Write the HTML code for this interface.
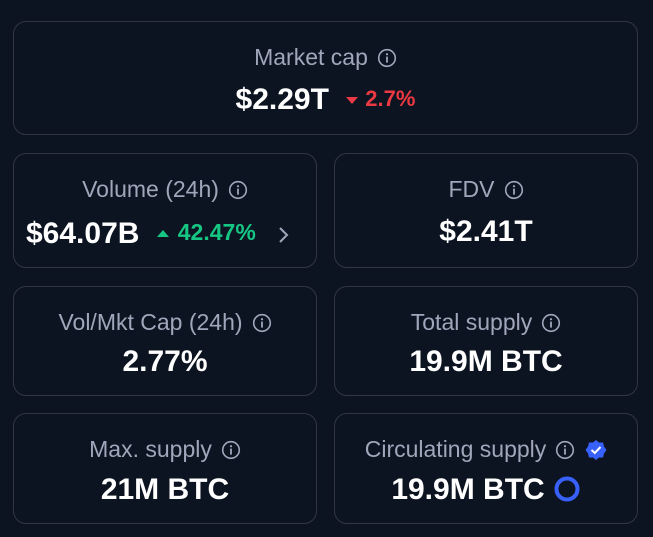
<!DOCTYPE html>
<html><head><meta charset="utf-8"><style>
*{margin:0;padding:0;box-sizing:border-box}
body{width:653px;height:537px;background:#0d1421;font-family:"Liberation Sans",sans-serif;position:relative;overflow:hidden}
.card{position:absolute;border:1.5px solid #323546;border-radius:13px}
.lab{position:absolute;left:0;right:0;text-align:center;color:#a1a7bb;font-size:23px;line-height:26px;white-space:nowrap;top:22px}
.val{position:absolute;left:0;right:0;text-align:center;color:#fff;font-size:30px;font-weight:bold;line-height:34px;white-space:nowrap}
.info{display:inline-block;vertical-align:-3px;margin-left:9px}
.pct{font-size:22px;font-weight:bold;vertical-align:3px}
</style></head><body>
<svg width="0" height="0" style="position:absolute"><defs><symbol id="i" viewBox="0 0 20 20"><circle cx="10" cy="10" r="8.3" fill="none" stroke="#a1a7bb" stroke-width="1.6"/><rect x="9.1" y="8.6" width="1.8" height="6" fill="#a1a7bb"/><circle cx="10" cy="6.2" r="1.1" fill="#a1a7bb"/></symbol></defs></svg>

<div class="card" style="left:13px;top:21px;width:625px;height:114px">
<div class="lab">Market cap<svg class="info" width="20" height="20"><use href="#i"/></svg></div>
<div class="val" style="top:60px">$2.29T <span class="pct" style="color:#ea3943"><svg width="14" height="10" style="margin:0 6px 1px 8px"><polygon points="1,2 13,2 7,9" fill="#ea3943"/></svg>2.7%</span></div>
</div>

<div class="card" style="left:13px;top:153px;width:304px;height:115px">
<div class="lab">Volume (24h)<svg class="info" width="20" height="20"><use href="#i"/></svg></div>
<div class="val" style="top:61px;text-align:left;left:12px">$64.07B <span class="pct" style="color:#16c784;font-size:23px"><svg width="14" height="10" style="margin:0 8px 1px 8px"><polygon points="1,8 13,8 7,1" fill="#16c784"/></svg>42.47%</span><svg width="14" height="18" style="margin-left:20px;vertical-align:-1px"><polyline points="4,2 11,9 4,16" fill="none" stroke="#a1a7bb" stroke-width="2"/></svg></div>
</div>

<div class="card" style="left:334px;top:153px;width:304px;height:115px">
<div class="lab">FDV<svg class="info" width="20" height="20"><use href="#i"/></svg></div>
<div class="val" style="top:61px">$2.41T</div>
</div>

<div class="card" style="left:13px;top:286px;width:304px;height:110px">
<div class="lab">Vol/Mkt Cap (24h)<svg class="info" width="20" height="20"><use href="#i"/></svg></div>
<div class="val" style="top:58px">2.77%</div>
</div>

<div class="card" style="left:334px;top:286px;width:304px;height:110px">
<div class="lab">Total supply<svg class="info" width="20" height="20"><use href="#i"/></svg></div>
<div class="val" style="top:58px">19.9M BTC</div>
</div>

<div class="card" style="left:13px;top:413px;width:304px;height:111px">
<div class="lab">Max. supply<svg class="info" width="20" height="20"><use href="#i"/></svg></div>
<div class="val" style="top:59px">21M BTC</div>
</div>

<div class="card" style="left:334px;top:413px;width:304px;height:111px">
<div class="lab">Circulating supply<svg class="info" width="20" height="20"><use href="#i"/></svg><svg width="22" height="22" style="vertical-align:-4px;margin-left:10px"><polygon points="11,1 14,3.5 18,3.5 19,7.5 21.5,11 19,14.5 18,18.5 14,18.5 11,21 8,18.5 4,18.5 3,14.5 0.5,11 3,7.5 4,3.5 8,3.5" fill="#3861fb"/><polyline points="6.5,11 9.8,14 15.5,8" fill="none" stroke="#fff" stroke-width="2"/></svg></div>
<div class="val" style="top:59px">19.9M BTC<svg width="28" height="28" style="vertical-align:-4px;margin-left:8px"><circle cx="14" cy="14" r="10.5" fill="none" stroke="#3861fb" stroke-width="4"/></svg></div>
</div>
</body></html>
